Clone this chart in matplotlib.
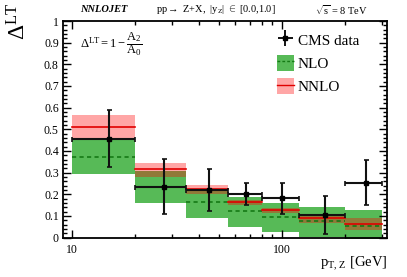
import numpy as np
import matplotlib
matplotlib.use("Agg")
import matplotlib.pyplot as plt
from matplotlib.patches import Patch
from matplotlib.lines import Line2D
from matplotlib.ticker import LogLocator, NullFormatter, FixedLocator, FixedFormatter, MultipleLocator

plt.rcParams['font.family'] = ['Liberation Serif', 'DejaVu Serif']
plt.rcParams['mathtext.fontset'] = 'custom'
plt.rcParams['mathtext.rm'] = 'Liberation Serif'
plt.rcParams['mathtext.it'] = 'Liberation Serif:italic'
plt.rcParams['mathtext.bf'] = 'Liberation Serif:bold'

# ---- data ----
bin_edges = [10, 20, 35, 55, 80, 120, 200, 300]
cms_val = [0.456, 0.235, 0.219, 0.201, 0.181, 0.104, 0.254]
cms_err = [0.132, 0.128, 0.098, 0.053, 0.072, 0.089, 0.102]

nlo_central = [0.373, 0.235, 0.163, 0.121, 0.094, 0.076, 0.053]
nlo_low = [0.295, 0.158, 0.089, 0.047, 0.025, 0.004, -0.01]
nlo_high = [0.457, 0.305, 0.217, 0.189, 0.161, 0.140, 0.129]

nnlo_central = [0.510, 0.316, 0.224, 0.163, 0.126, 0.090, 0.064]
nnlo_low = [0.455, 0.281, 0.200, 0.150, 0.112, 0.066, 0.036]
nnlo_high = [0.567, 0.344, 0.243, 0.174, 0.135, 0.100, 0.089]

W, H = 407, 277
fig = plt.figure(figsize=(W/100, H/100), dpi=100)
ax = fig.add_axes([63/W, 1-237.5/H, 324/W, 216.5/H])

green = (0.34, 0.73, 0.34)
edges = np.array(bin_edges)
for i in range(len(edges)-1):
    x0, x1 = edges[i], edges[i+1]
    ax.fill_between([x0, x1], nlo_low[i], nlo_high[i], color=green, lw=0, zorder=1)
for i in range(len(edges)-1):
    x0, x1 = edges[i], edges[i+1]
    ax.fill_between([x0, x1], nnlo_low[i], nnlo_high[i], color='red', alpha=0.35, lw=0, zorder=2)
for i in range(len(edges)-1):
    x0, x1 = edges[i], edges[i+1]
    ax.plot([x0, x1], [nlo_central[i]]*2, color='#157a15', ls=(0, (2.5, 2)), lw=1.2, zorder=3)
    ax.plot([x0, x1], [nnlo_central[i]]*2, color='#e00000', lw=1.2, zorder=3)

centers = (edges[:-1] + edges[1:]) / 2
xerr = [centers - edges[:-1], edges[1:] - centers]
ax.errorbar(centers, cms_val, yerr=cms_err, xerr=xerr, fmt='s', ms=3, color='black',
            ecolor='#111111', elinewidth=1.5, capsize=1.8, capthick=1.2, zorder=5)

ax.set_xscale('log')
ax.set_xlim(9.05, 316)
ax.set_ylim(0, 1)

ax.xaxis.set_major_locator(FixedLocator([10, 100]))
ax.xaxis.set_major_formatter(FixedFormatter(['10', '100']))
ax.xaxis.set_minor_locator(LogLocator(base=10, subs=np.arange(2, 10)))
ax.xaxis.set_minor_formatter(NullFormatter())
ax.yaxis.set_major_locator(MultipleLocator(0.1))
ax.yaxis.set_minor_locator(MultipleLocator(0.02))
ax.set_yticks(np.arange(0, 1.01, 0.1))
ax.set_yticklabels(['0', '0.1', '0.2', '0.3', '0.4', '0.5', '0.6', '0.7', '0.8', '0.9', '1'])

ax.tick_params(which='both', direction='in', top=True, right=True, width=1.0, labelsize=8.5, pad=3)
ax.tick_params(which='major', length=6)
ax.tick_params(which='minor', length=3.2)
ax.tick_params(axis='x', which='major', pad=5)
for s in ax.spines.values():
    s.set_linewidth(1.3)

# labels
fig.text(19/W, 1-3/H, r'$\Delta^{\mathrm{LT}}$', rotation=90, ha='center', va='top', fontsize=17)
fig.text(387/W, 1-264/H, r'$\mathrm{p_{T,\,Z}}$ [GeV]', ha='right', va='center', fontsize=10.5)

fig.text(104/W, 1-10/H, 'NNLOJET', ha='center', va='center', fontsize=7.5, fontweight='bold', fontstyle='italic')
fig.text(216/W, 1-10/H, r'pp$\rightarrow$ Z+X,  $|\mathrm{y_Z}|$ $\in$ [0.0,1.0]', ha='center', va='center', fontsize=7.5)
fig.text(341/W, 1-10/H, r'$\sqrt{\mathrm{s}}$ = 8 TeV', ha='center', va='center', fontsize=7.5)

ax.text(0.052, 0.893, r'$\Delta^{\mathrm{LT}} = 1 - \dfrac{\mathrm{A_2}}{\mathrm{A_0}}$', transform=ax.transAxes,
        ha='left', va='center', fontsize=9)

# legend
h_cms = ax.errorbar([], [], yerr=[], xerr=[], fmt='s', ms=2.5, color='black', elinewidth=1.3)
h_nlo = (Patch(facecolor=green, edgecolor='none'), Line2D([], [], color='#157a15', ls=(0, (2, 1.5)), lw=1.0))
h_nnlo = (Patch(facecolor=(1, 0.65, 0.65), edgecolor='none'), Line2D([], [], color='#e00000', lw=1.0))
leg = ax.legend([h_cms, h_nlo, h_nnlo], ['CMS data', 'NLO', 'NNLO'],
                loc='upper left', bbox_to_anchor=(269/W, 1-24/H), bbox_transform=fig.transFigure,
                frameon=False, fontsize=11, handlelength=1.15, handleheight=1.2,
                handletextpad=0.25, labelspacing=0.48, borderpad=0)

fig.savefig('out.png', dpi=100)
